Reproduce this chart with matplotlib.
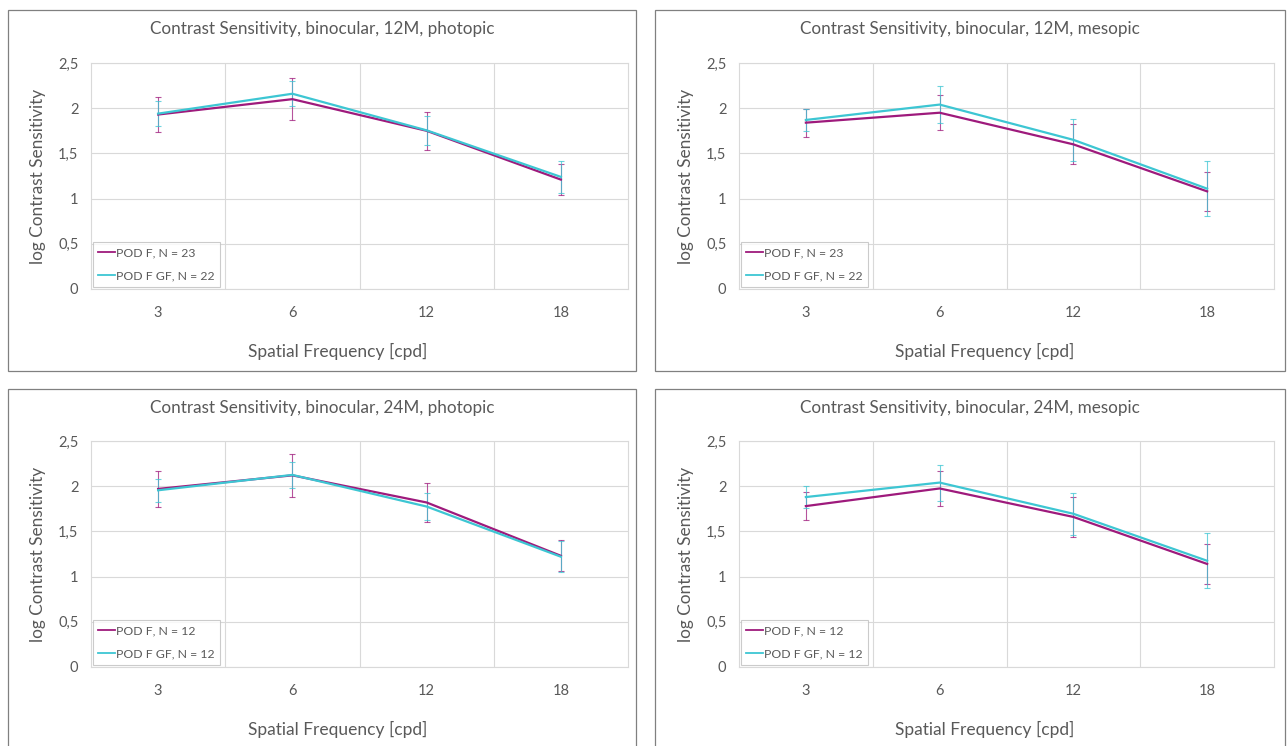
import matplotlib.pyplot as plt
from matplotlib.patches import Rectangle

plt.rcParams['font.family'] = ['Lato', 'DejaVu Sans']

# Data
freqs = ['3', '6', '12', '18']

titles = ['Contrast Sensitivity, binocular, 12M, photopic',
          'Contrast Sensitivity, binocular, 12M, mesopic',
          'Contrast Sensitivity, binocular, 24M, photopic',
          'Contrast Sensitivity, binocular, 24M, mesopic']

labels_f = ['POD F, N = 23', 'POD F, N = 23', 'POD F, N = 12', 'POD F, N = 12']
labels_gf = ['POD F GF, N = 22', 'POD F GF, N = 22', 'POD F GF, N = 12', 'POD F GF, N = 12']

podf_12m_phot = [1.93, 2.10, 1.75, 1.21]
podf_12m_phot_err = [0.19, 0.23, 0.21, 0.17]
podfgf_12m_phot = [1.94, 2.16, 1.755, 1.24]
podfgf_12m_phot_err = [0.135, 0.14, 0.16, 0.18]

podf_12m_mes = [1.84, 1.95, 1.60, 1.08]
podf_12m_mes_err = [0.155, 0.195, 0.22, 0.215]
podfgf_12m_mes = [1.87, 2.04, 1.65, 1.11]
podfgf_12m_mes_err = [0.125, 0.205, 0.23, 0.305]

podf_24m_phot = [1.97, 2.12, 1.82, 1.23]
podf_24m_phot_err = [0.20, 0.235, 0.22, 0.17]
podfgf_24m_phot = [1.955, 2.125, 1.775, 1.22]
podfgf_24m_phot_err = [0.13, 0.14, 0.15, 0.17]

podf_24m_mes = [1.78, 1.975, 1.66, 1.14]
podf_24m_mes_err = [0.155, 0.19, 0.22, 0.22]
podfgf_24m_mes = [1.88, 2.04, 1.695, 1.175]
podfgf_24m_mes_err = [0.12, 0.20, 0.23, 0.305]

series = [
    (podf_12m_phot, podf_12m_phot_err, podfgf_12m_phot, podfgf_12m_phot_err),
    (podf_12m_mes, podf_12m_mes_err, podfgf_12m_mes, podfgf_12m_mes_err),
    (podf_24m_phot, podf_24m_phot_err, podfgf_24m_phot, podfgf_24m_phot_err),
    (podf_24m_mes, podf_24m_mes_err, podfgf_24m_mes, podfgf_24m_mes_err),
]

purple = '#9E1A7C'
cyan = '#3DC6D3'
grid_c = '#D9D9D9'
text_c = '#595959'

W, H = 1287, 746
fig = plt.figure(figsize=(W / 100, H / 100), dpi=100)

# panel boxes (pixels: x0, y0 top, x1, y1 bottom) and plot areas
boxes = [(8, 10, 636, 371), (655, 10, 1285, 371),
         (8, 389, 636, 760), (655, 389, 1285, 760)]
plots = [(91, 63, 628, 289), (739, 63, 1274, 289),
         (91, 441, 628, 667), (739, 441, 1274, 667)]

for i in range(4):
    bx0, by0, bx1, by1 = boxes[i]
    fig.patches.append(Rectangle((bx0 / W, 1 - by1 / H), (bx1 - bx0) / W, (by1 - by0) / H,
                                 transform=fig.transFigure, fill=False,
                                 edgecolor='#808080', linewidth=0.9))
    px0, py0, px1, py1 = plots[i]
    ax = fig.add_axes([px0 / W, 1 - py1 / H, (px1 - px0) / W, (py1 - py0) / H])

    f, fe, g, ge = series[i]
    x = range(len(freqs))
    ax.errorbar(x, f, yerr=fe, fmt='none', ecolor=purple, elinewidth=0.8,
                capsize=2, capthick=0.8, alpha=0.75, zorder=3)
    ax.errorbar(x, g, yerr=ge, fmt='none', ecolor=cyan, elinewidth=0.8,
                capsize=2, capthick=0.8, alpha=0.75, zorder=3)
    ax.plot(x, f, color=purple, lw=1.6, label=labels_f[i], zorder=4)
    ax.plot(x, g, color=cyan, lw=1.6, label=labels_gf[i], zorder=4)

    ax.set_xlim(-0.5, 3.5)
    ax.set_ylim(0, 2.5)
    ax.set_xticks(list(x))
    ax.set_xticklabels(freqs)
    ax.set_xticks([0.5, 1.5, 2.5], minor=True)
    ax.set_yticks([0, 0.5, 1, 1.5, 2, 2.5])
    ax.set_yticklabels(['0', '0,5', '1', '1,5', '2', '2,5'])
    ax.grid(True, which='minor', axis='x', color=grid_c, lw=0.8)
    ax.grid(True, which='major', axis='y', color=grid_c, lw=0.8)
    ax.tick_params(which='both', length=0, labelsize=10.5, colors=text_c)
    ax.tick_params(axis='x', pad=12)
    ax.tick_params(axis='y', pad=9)
    for s in ax.spines.values():
        s.set_color(grid_c)
        s.set_linewidth(0.8)

    ax.set_xlabel('Spatial Frequency [cpd]', fontsize=12.5, color=text_c)
    ax.xaxis.set_label_coords(0.459, -0.24)
    ax.set_ylabel('log Contrast Sensitivity', fontsize=12.4, color=text_c)
    ax.yaxis.set_label_coords(-0.084, 0.5)

    cx = (bx0 + bx1) / 2 / W
    fig.text(cx, 1 - (by0 + 19) / H, titles[i], ha='center', va='center',
             fontsize=12.3, color=text_c)

    leg = ax.legend(loc='lower left', fontsize=8.8, frameon=True, fancybox=False,
                    edgecolor='#BFBFBF', handlelength=1.35, handletextpad=0.1,
                    borderaxespad=0.15, labelspacing=1.0, borderpad=0.45)
    leg.get_frame().set_linewidth(0.8)
    for line in leg.get_lines():
        line.set_linewidth(1.3)
    for t in leg.get_texts():
        t.set_color(text_c)

fig.savefig('out.png', dpi=100)
